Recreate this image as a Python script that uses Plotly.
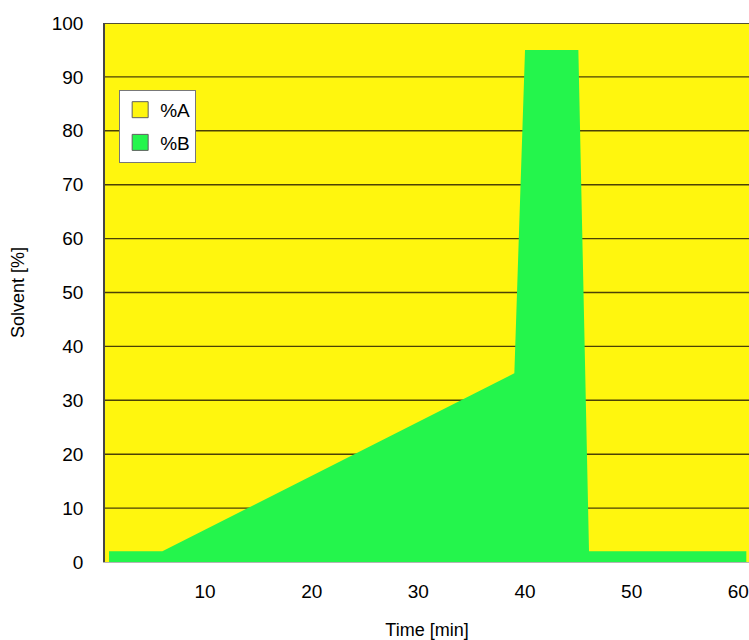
import plotly.graph_objects as go

# Gradient program (time in minutes, solvent composition in %)
time_min = [1, 6, 39, 40, 45, 46, 60.75]
pct_b = [2, 2, 35, 95, 95, 2, 2]
pct_a = [100 - b for b in pct_b]

y_ticks = [0, 10, 20, 30, 40, 50, 60, 70, 80, 90, 100]
x_ticks = [10, 20, 30, 40, 50, 60]
x_range = [0.62, 61.0]

YELLOW = "rgb(255,246,14)"
GREEN = "rgb(36,245,76)"
GRID = "rgb(75,65,5)"
FONT = "Liberation Sans, Arial, sans-serif"

# %A band sits on top of %B up to 100 %
top = [a + b for a, b in zip(pct_a, pct_b)]
band_x = time_min + time_min[::-1]
band_y = top + pct_b[::-1]

# horizontal grid lines, drawn over the %A band but under the %B area
grid_x, grid_y = [], []
for v in y_ticks[1:]:
    grid_x += [x_range[0], x_range[1], None]
    grid_y += [v, v, None]

fig = go.Figure()
fig.add_trace(go.Scatter(
    x=band_x, y=band_y, name="%A", fill="toself", fillcolor=YELLOW,
    mode="lines", line=dict(width=0, color=YELLOW),
    showlegend=False, hoverinfo="skip",
))
fig.add_trace(go.Scatter(
    x=grid_x, y=grid_y, mode="lines", line=dict(color=GRID, width=1.4),
    showlegend=False, hoverinfo="skip",
))
fig.add_trace(go.Scatter(
    x=time_min, y=pct_b, name="%B", fill="tozeroy", fillcolor=GREEN,
    mode="lines", line=dict(width=0, color=GREEN), showlegend=False,
))

# square legend swatches
for name, color in (("%A", YELLOW), ("%B", GREEN)):
    fig.add_trace(go.Scatter(
        x=[None], y=[None], name=name, mode="markers", legendgroup=name,
        marker=dict(symbol="square", size=16, color=color,
                    line=dict(color="rgb(95,95,95)", width=1)),
    ))

fig.update_layout(
    width=749, height=640,
    margin=dict(l=105, r=0, t=23, b=74),
    paper_bgcolor="white", plot_bgcolor=YELLOW,
    font=dict(family=FONT, size=19, color="black"),
    showlegend=True,
    legend=dict(
        x=0.022, y=0.876, xanchor="left", yanchor="top",
        bgcolor="white", bordercolor="rgb(120,120,120)", borderwidth=1,
        font=dict(size=19), itemwidth=30, tracegroupgap=5,
        traceorder="grouped",
    ),
    xaxis=dict(
        range=x_range, tickvals=x_ticks, showgrid=False, zeroline=False,
        showline=True, linecolor="rgb(180,180,180)", linewidth=1,
        ticks="", ticklabelstandoff=12,
        title=dict(text="Time [min]", font=dict(size=18), standoff=26),
    ),
    yaxis=dict(
        range=[0, 100], tickvals=y_ticks, showgrid=False, zeroline=False,
        showline=True, linecolor="rgb(70,70,70)", linewidth=1.5,
        mirror=False, ticks="", ticklabelstandoff=16,
        title=dict(text="Solvent [%]", font=dict(size=18), standoff=22),
    ),
)

# plot frame top edge (100 % line)
fig.add_shape(type="line", xref="paper", yref="y", x0=0, x1=1, y0=100, y1=100,
              line=dict(color="rgb(70,70,70)", width=1.5), layer="above")

fig.write_html("out.html")
